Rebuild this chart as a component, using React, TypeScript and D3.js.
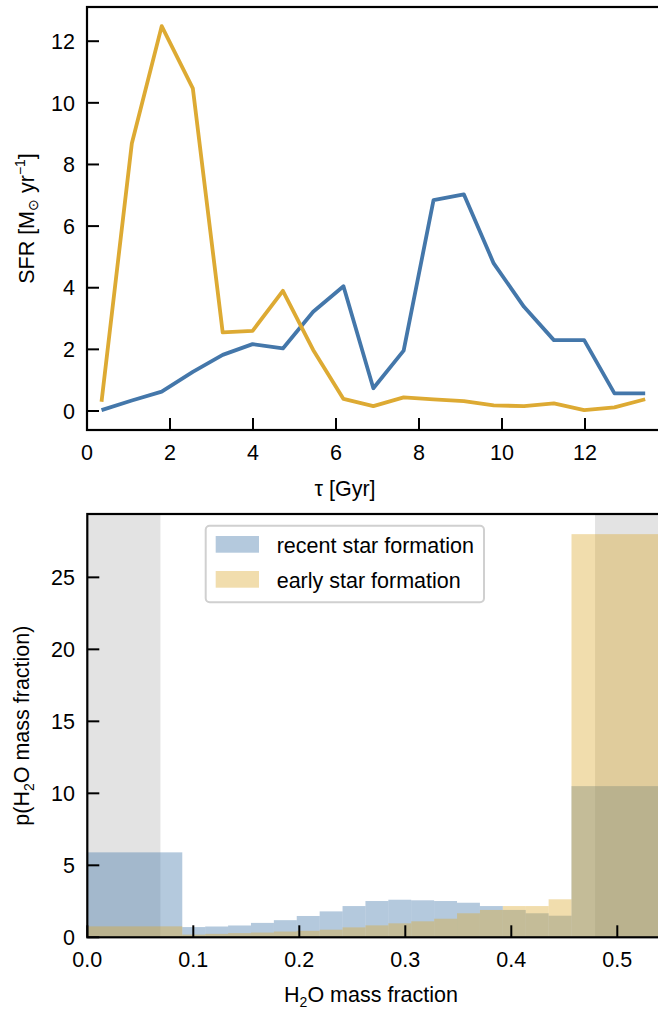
import React from 'react';
import * as d3 from 'd3';

// lookback time bins [Gyr] and SFR of the two histories
const tau = [0.35, 1.08, 1.8, 2.55, 3.27, 3.99, 4.72, 5.45, 6.18, 6.9, 7.63, 8.35, 9.08, 9.8, 10.53, 11.25, 11.98, 12.71, 13.45];
const sfrRecent = [0.03, 0.34, 0.63, 1.27, 1.82, 2.17, 2.03, 3.22, 4.05, 0.74, 1.96, 6.84, 7.03, 4.79, 3.38, 2.3, 2.3, 0.57, 0.57];
const sfrEarly = [0.3, 8.68, 12.49, 10.47, 2.55, 2.6, 3.9, 1.98, 0.39, 0.16, 0.44, 0.38, 0.32, 0.18, 0.16, 0.25, 0.03, 0.12, 0.38];
const tauTicks = [0, 2, 4, 6, 8, 10, 12];
const sfrTicks = [0, 2, 4, 6, 8, 10, 12];

// water mass fraction histogram
const binEdges = [0.0, 0.0896, 0.1112, 0.1328, 0.1544, 0.176, 0.1976, 0.2192, 0.2408, 0.2624, 0.284, 0.3056, 0.3272, 0.3488, 0.3704, 0.392, 0.4136, 0.4352, 0.4568, 0.56];
const densRecent = [5.9, 0.71, 0.75, 0.82, 1.0, 1.19, 1.48, 1.8, 2.17, 2.52, 2.61, 2.57, 2.52, 2.4, 2.17, 1.9, 1.67, 1.5, 10.5];
const densEarly = [0.76, 0.19, 0.24, 0.29, 0.33, 0.4, 0.45, 0.53, 0.69, 0.83, 0.97, 1.11, 1.29, 1.67, 1.9, 2.17, 2.17, 2.64, 28.0];
const shadedRanges = [[0, 0.069], [0.479, 0.6]];
const wmfTicks = [0, 0.1, 0.2, 0.3, 0.4, 0.5];
const densTicks = [0, 5, 10, 15, 20, 25];
const seriesNames = ['recent star formation', 'early star formation'];

const BLUE = '#4477AA';
const GOLD = '#DDAA33';
const FONT = '"Liberation Sans", Arial, Helvetica, sans-serif';
const FS = 21.5;
const TICK = 12;

const W = 658;
const H = 1011;

export default function App() {
  // top panel
  const top = { left: 87, right: 668, top: 7, bottom: 430 };
  const xT = d3.scaleLinear().domain([0, 14]).range([top.left, top.right]);
  const yT = d3.scaleLinear().domain([-0.617, 13.11]).range([top.bottom, top.top]);
  const line = d3
    .line<number>()
    .x((_, i) => xT(tau[i]))
    .y((d) => yT(d));

  // bottom panel
  const bot = { left: 87.3, right: 670.3, top: 514, bottom: 937.3 };
  const xB = d3.scaleLinear().domain([0, 0.55]).range([bot.left, bot.right]);
  const yB = d3.scaleLinear().domain([0, 29.4]).range([bot.bottom, bot.top]);

  const bars = (vals: number[], color: string) =>
    vals.map((v, i) => (
      <rect
        key={color + i}
        x={xB(binEdges[i])}
        width={xB(binEdges[i + 1]) - xB(binEdges[i])}
        y={yB(v)}
        height={yB(0) - yB(v)}
        fill={color}
        fillOpacity={0.4}
      />
    ));

  return (
    <svg
      width={W}
      height={H}
      style={{ position: 'absolute', left: 0, top: 0, background: '#fff' }}
      fontFamily={FONT}
      fontSize={FS}
    >
      <defs>
        <clipPath id="clipTop">
          <rect x={top.left} y={top.top} width={top.right - top.left} height={top.bottom - top.top} />
        </clipPath>
        <clipPath id="clipBot">
          <rect x={bot.left} y={bot.top} width={bot.right - bot.left} height={bot.bottom - bot.top} />
        </clipPath>
      </defs>

      {/* ---------- SFR panel ---------- */}
      <g clipPath="url(#clipTop)">
        <path d={line(sfrRecent) || ''} fill="none" stroke={BLUE} strokeWidth={3.8} strokeLinejoin="round" />
        <path d={line(sfrEarly) || ''} fill="none" stroke={GOLD} strokeWidth={3.8} strokeLinejoin="round" />
      </g>
      <rect
        x={top.left}
        y={top.top}
        width={top.right - top.left}
        height={top.bottom - top.top}
        fill="none"
        stroke="#000"
        strokeWidth={2.2}
      />
      {tauTicks.map((t) => (
        <g key={'xt' + t}>
          <line x1={xT(t)} x2={xT(t)} y1={top.bottom} y2={top.bottom - TICK} stroke="#000" strokeWidth={2} />
          <text x={xT(t)} y={top.bottom + 30} textAnchor="middle">
            {t}
          </text>
        </g>
      ))}
      {sfrTicks.map((t) => (
        <g key={'yt' + t}>
          <line x1={top.left} x2={top.left + TICK} y1={yT(t)} y2={yT(t)} stroke="#000" strokeWidth={2} />
          <text x={75} y={yT(t)} dy="0.36em" textAnchor="end">
            {t}
          </text>
        </g>
      ))}
      <text x={345} y={top.bottom + 66} textAnchor="middle">
        τ [Gyr]
      </text>
      <text transform={`translate(34, ${(top.top + top.bottom) / 2}) rotate(-90)`} textAnchor="middle">
        SFR [M
        <tspan fontSize={14} dy={4}>⊙</tspan>
        <tspan dy={-4}> yr</tspan>
        <tspan fontSize={14} dy={-9}>−1</tspan>
        <tspan dy={9}>]</tspan>
      </text>

      {/* ---------- histogram panel ---------- */}
      <g clipPath="url(#clipBot)">
        {shadedRanges.map(([a, b], i) => (
          <rect key={'sh' + i} x={xB(a)} width={xB(b) - xB(a)} y={bot.top} height={bot.bottom - bot.top} fill="#e3e3e3" />
        ))}
        {bars(densRecent, BLUE)}
        {bars(densEarly, GOLD)}
      </g>
      <rect
        x={bot.left}
        y={bot.top}
        width={bot.right - bot.left}
        height={bot.bottom - bot.top}
        fill="none"
        stroke="#000"
        strokeWidth={2.2}
      />
      {wmfTicks.map((t) => (
        <g key={'xb' + t}>
          <line x1={xB(t)} x2={xB(t)} y1={bot.bottom} y2={bot.bottom - TICK} stroke="#000" strokeWidth={2} />
          <text x={xB(t)} y={bot.bottom + 30} textAnchor="middle">
            {t.toFixed(1)}
          </text>
        </g>
      ))}
      {densTicks.map((t) => (
        <g key={'yb' + t}>
          <line x1={bot.left} x2={bot.left + TICK} y1={yB(t)} y2={yB(t)} stroke="#000" strokeWidth={2} />
          <text x={75} y={yB(t)} dy="0.36em" textAnchor="end">
            {t}
          </text>
        </g>
      ))}
      <text x={371} y={bot.bottom + 65} textAnchor="middle">
        H<tspan fontSize={14} dy={5}>2</tspan>
        <tspan dy={-5}>O mass fraction</tspan>
      </text>
      <text transform={`translate(29, ${(bot.top + bot.bottom) / 2}) rotate(-90)`} textAnchor="middle">
        p(H<tspan fontSize={14} dy={5}>2</tspan>
        <tspan dy={-5}>O mass fraction)</tspan>
      </text>

      {/* legend */}
      <g>
        <rect x={205.7} y={525.7} width={278.3} height={76.6} rx={4} fill="#fff" fillOpacity={0.8} stroke="#d0d0d0" strokeWidth={2} />
        {seriesNames.map((name, i) => (
          <g key={name} transform={`translate(0, ${i * 35})`}>
            <rect x={215.7} y={536} width={43.3} height={16.7} fill={i === 0 ? BLUE : GOLD} fillOpacity={0.4} />
            <text x={276.7} y={552.5}>
              {name}
            </text>
          </g>
        ))}
      </g>
    </svg>
  );
}
